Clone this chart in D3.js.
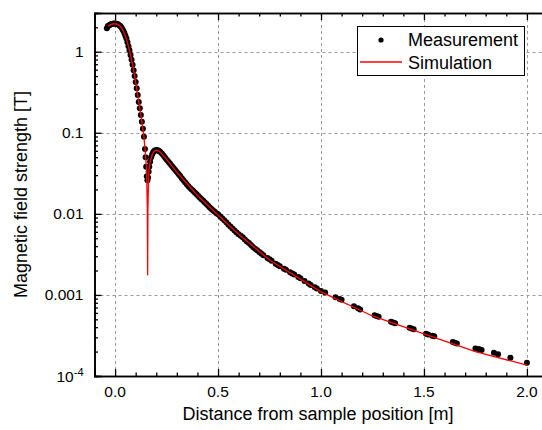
<!DOCTYPE html>
<html lang="en">
<head>
  <meta charset="UTF-8">
  <title>Magnetic field strength</title>
  <script src="https://cdn.jsdelivr.net/npm/d3@7"></script>
  <style>
  body { margin: 0; background: white; }
  svg text { font-family: "Liberation Sans", Arial, sans-serif; fill: #000; }
  .tick-label { font-size: 15.5px; }
  .axis-title { font-size: 18px; }
  .legend text { font-size: 18px; }
  </style>
</head>
<body>
<div id="chart"></div>
<script>
// Measurement: distance [m], field [T]
const measX = [
  -0.040, -0.035, -0.030, -0.025, -0.020, -0.015, -0.010, -0.005, 0.000, 0.005,
  0.010, 0.015, 0.020, 0.025, 0.030, 0.035, 0.040, 0.045, 0.050, 0.055,
  0.060, 0.065, 0.070, 0.075, 0.080, 0.085, 0.090, 0.095, 0.100, 0.105,
  0.110, 0.115, 0.120, 0.125, 0.130, 0.135, 0.140, 0.145, 0.148, 0.151,
  0.154, 0.157, 0.160, 0.163, 0.166, 0.170, 0.175, 0.180, 0.185, 0.190,
  0.195, 0.200, 0.205, 0.210, 0.215, 0.220, 0.228, 0.236, 0.244, 0.252,
  0.260, 0.268, 0.276, 0.284, 0.292, 0.300, 0.308, 0.316, 0.324, 0.332,
  0.340, 0.348, 0.356, 0.364, 0.372, 0.380, 0.388, 0.396, 0.404, 0.412,
  0.420, 0.428, 0.436, 0.444, 0.452, 0.460, 0.468, 0.476, 0.484, 0.492,
  0.500, 0.51, 0.52, 0.53, 0.54, 0.55, 0.56, 0.57, 0.58, 0.59,
  0.60, 0.61, 0.62, 0.63, 0.64, 0.65, 0.66, 0.67, 0.68, 0.69,
  0.70, 0.71, 0.72, 0.74, 0.75, 0.76, 0.78, 0.79, 0.80, 0.82,
  0.83, 0.85, 0.86, 0.87, 0.89, 0.90, 0.92, 0.94, 0.95, 0.97,
  0.98, 1.00, 1.02, 1.07, 1.09, 1.10, 1.16, 1.18, 1.19, 1.26,
  1.27, 1.28, 1.34, 1.35, 1.36, 1.43, 1.44, 1.45, 1.51, 1.52,
  1.54, 1.55, 1.64, 1.65, 1.66, 1.75, 1.76, 1.77, 1.78, 1.84,
  1.86, 1.92, 2.00
];
const measB = [
  1.95, 2.07, 2.11, 2.15, 2.18, 2.20, 2.21, 2.22, 2.22, 2.21,
  2.19, 2.16, 2.12, 2.07, 2.00, 1.91, 1.81, 1.70, 1.57, 1.45,
  1.31, 1.17, 1.04, 0.912, 0.798, 0.692, 0.592, 0.501, 0.424, 0.355,
  0.293, 0.240, 0.200, 0.166, 0.137, 0.112, 0.089, 0.063, 0.050, 0.038,
  0.029, 0.026, 0.028, 0.033, 0.038, 0.044, 0.050, 0.054, 0.0575, 0.0596,
  0.0607, 0.061, 0.0608, 0.0603, 0.0592, 0.0578, 0.055, 0.0519, 0.049, 0.0462,
  0.0437, 0.0412, 0.0389, 0.0367, 0.0347, 0.0327, 0.0309, 0.0292, 0.0275, 0.026,
  0.0245, 0.0232, 0.0219, 0.0209, 0.0200, 0.0191, 0.0182, 0.0174, 0.0166, 0.0158,
  0.0151, 0.0145, 0.0138, 0.0132, 0.0126, 0.0120, 0.0115, 0.0110, 0.0106, 0.0102,
  0.00989, 0.00933, 0.00881, 0.00832, 0.00785, 0.00741, 0.0070, 0.0066, 0.00624, 0.00589,
  0.00562, 0.00537, 0.00513, 0.00484, 0.00457, 0.00437, 0.00412, 0.00389, 0.00372, 0.00355,
  0.00339, 0.00324, 0.00309, 0.00285, 0.00275, 0.00263, 0.00243, 0.00234, 0.00226, 0.00211,
  0.00204, 0.00191, 0.00184, 0.00178, 0.00166, 0.00160, 0.00148, 0.00138, 0.00133, 0.00124,
  0.00120, 0.00112, 0.00107, 0.000933, 0.000891, 0.000871, 0.000724, 0.000684, 0.000661, 0.000562,
  0.00055, 0.000537, 0.000468, 0.000457, 0.000447, 0.000394, 0.000385, 0.000376, 0.000331, 0.000324,
  0.000313, 0.000309, 0.000263, 0.000257, 0.000251, 0.000219, 0.000216, 0.000214, 0.000209, 0.000193,
  0.000186, 0.000168, 0.000146
];

// Simulation
const simX = [
  -0.035, -0.02, -0.005, 0.01, 0.025, 0.04, 0.055, 0.07, 0.085, 0.10,
  0.115, 0.13, 0.14, 0.148, 0.153, 0.1565, 0.158, 0.1595, 0.163, 0.17,
  0.18, 0.19, 0.20, 0.21, 0.22, 0.25, 0.30, 0.35, 0.40, 0.50,
  0.60, 0.75, 1.00, 1.25, 1.50, 1.75, 2.00
];
const simB = [
  2.05, 2.17, 2.21, 2.18, 2.06, 1.80, 1.44, 1.03, 0.69, 0.42,
  0.24, 0.137, 0.089, 0.052, 0.034, 0.012, 0.00175, 0.012, 0.032, 0.044,
  0.054, 0.0595, 0.061, 0.060, 0.0575, 0.047, 0.0325, 0.0235, 0.0168, 0.0097,
  0.0056, 0.0027, 0.00109, 0.00055, 0.00033, 0.0002, 0.000136
];

const xTicks = [0, 0.5, 1.0, 1.5, 2.0];
const yTicks = [1, 0.1, 0.01, 0.001, 0.0001];
const yTickLabels = ['1', '0.1', '0.01', '0.001', '10^-4'];

const W = 542, H = 430;
const margin = {top: 13, left: 94.5};
const plotW = 453, plotH = 363;

const svg = d3.select('#chart').append('svg')
  .attr('width', W).attr('height', H);

const x = d3.scaleLinear().domain([-0.1, 2.1]).range([margin.left, margin.left + plotW]);
const y = d3.scaleLog().domain([1e-4, 3]).range([margin.top + plotH, margin.top]);

const yBot = margin.top + plotH, yTop = margin.top, xLeft = margin.left, xRight = margin.left + plotW;

// grid
const grid = svg.append('g').attr('stroke', '#9a9a9a').attr('stroke-width', 1)
  .attr('stroke-dasharray', '3,3');
grid.selectAll('.gx').data(xTicks).enter().append('line')
  .attr('x1', d => Math.round(x(d)) + 0.5).attr('x2', d => Math.round(x(d)) + 0.5)
  .attr('y1', yTop).attr('y2', yBot);
grid.selectAll('.gy').data(yTicks.slice(0, 4)).enter().append('line')
  .attr('y1', d => Math.round(y(d)) + 0.5).attr('y2', d => Math.round(y(d)) + 0.5)
  .attr('x1', xLeft).attr('x2', xRight);

// axes (ticks inward)
const xMinor = d3.range(-1, 22).map(i => i / 10).filter(v => !xTicks.some(t => Math.abs(t - v) < 1e-9));
const yMinor = [];
[1e-4, 1e-3, 1e-2, 1e-1, 1].forEach(dec => {
  for (let k = 2; k <= 9; k++) if (dec * k <= 3) yMinor.push(dec * k);
});

const axisX = d3.axisBottom(x).tickValues(xTicks).tickSize(-7).tickFormat('');
const axisXMinor = d3.axisBottom(x).tickValues(xMinor).tickSize(-3.5).tickFormat('');
const axisXTop = d3.axisTop(x).tickValues(xTicks).tickSize(-7).tickFormat('');
const axisXTopMinor = d3.axisTop(x).tickValues(xMinor).tickSize(-3.5).tickFormat('');
const axisY = d3.axisLeft(y).tickValues(yTicks).tickSize(-7).tickFormat('');
const axisYMinor = d3.axisLeft(y).tickValues(yMinor).tickSize(-3.5).tickFormat('');

const styleAxis = g => {
  g.selectAll('path').attr('stroke', '#000').attr('stroke-width', 1.6);
  g.selectAll('line').attr('stroke', '#000').attr('stroke-width', 1.3);
};
svg.append('g').attr('transform', `translate(0,${yBot})`).call(axisXMinor).call(styleAxis);
svg.append('g').attr('transform', `translate(0,${yBot})`).call(axisX).call(styleAxis);
svg.append('g').attr('transform', `translate(0,${yTop})`).call(axisXTopMinor).call(styleAxis);
svg.append('g').attr('transform', `translate(0,${yTop})`).call(axisXTop).call(styleAxis);
svg.append('g').attr('transform', `translate(${xLeft},0)`).call(axisYMinor).call(styleAxis);
svg.append('g').attr('transform', `translate(${xLeft},0)`).call(axisY).call(styleAxis);

// tick labels
svg.selectAll('.xl').data(xTicks).enter().append('text')
  .attr('class', 'tick-label')
  .attr('x', d => x(d)).attr('y', yBot + 21)
  .attr('text-anchor', 'middle')
  .text(d => d.toFixed(1));

yTicks.forEach((v, i) => {
  const t = svg.append('text').attr('class', 'tick-label')
    .attr('x', xLeft - 11).attr('y', y(v) + 5.5)
    .attr('text-anchor', 'end');
  const lab = yTickLabels[i];
  if (lab.includes('^')) {
    const [base, exp] = lab.split('^');
    t.append('tspan').text(base);
    t.append('tspan').attr('dy', -6).attr('font-size', 11).text(exp);
  } else {
    t.text(lab);
  }
});

// axis titles
svg.append('text').attr('class', 'axis-title')
  .attr('x', 318).attr('y', 420)
  .attr('text-anchor', 'middle')
  .text('Distance from sample position [m]');
svg.append('text').attr('class', 'axis-title')
  .attr('transform', `translate(27,${(yTop + yBot) / 2}) rotate(-90)`)
  .attr('text-anchor', 'middle')
  .text('Magnetic field strength [T]');

// data
const plot = svg.append('g');
plot.selectAll('circle').data(measX).enter().append('circle')
  .attr('cx', d => x(d)).attr('cy', (d, i) => y(measB[i]))
  .attr('r', 3).attr('fill', '#000');

const line = d3.line().x(d => x(d[0])).y(d => y(d[1]));
plot.append('path')
  .datum(simX.map((v, i) => [v, simB[i]]))
  .attr('d', line)
  .attr('fill', 'none').attr('stroke', '#ff0000').attr('stroke-width', 1.3);

// legend
const lg = svg.append('g').attr('class', 'legend');
lg.append('rect').attr('x', 357.5).attr('y', 26.5).attr('width', 167).attr('height', 49)
  .attr('fill', 'white').attr('stroke', '#000').attr('stroke-width', 1);
lg.append('circle').attr('cx', 381).attr('cy', 40).attr('r', 2.6).attr('fill', '#000');
lg.append('text').attr('x', 408).attr('y', 46).text('Measurement');
lg.append('line').attr('x1', 360).attr('x2', 402).attr('y1', 62).attr('y2', 62)
  .attr('stroke', '#ff0000').attr('stroke-width', 1.3);
lg.append('text').attr('x', 408).attr('y', 68.5).text('Simulation');
</script>
</body>
</html>
